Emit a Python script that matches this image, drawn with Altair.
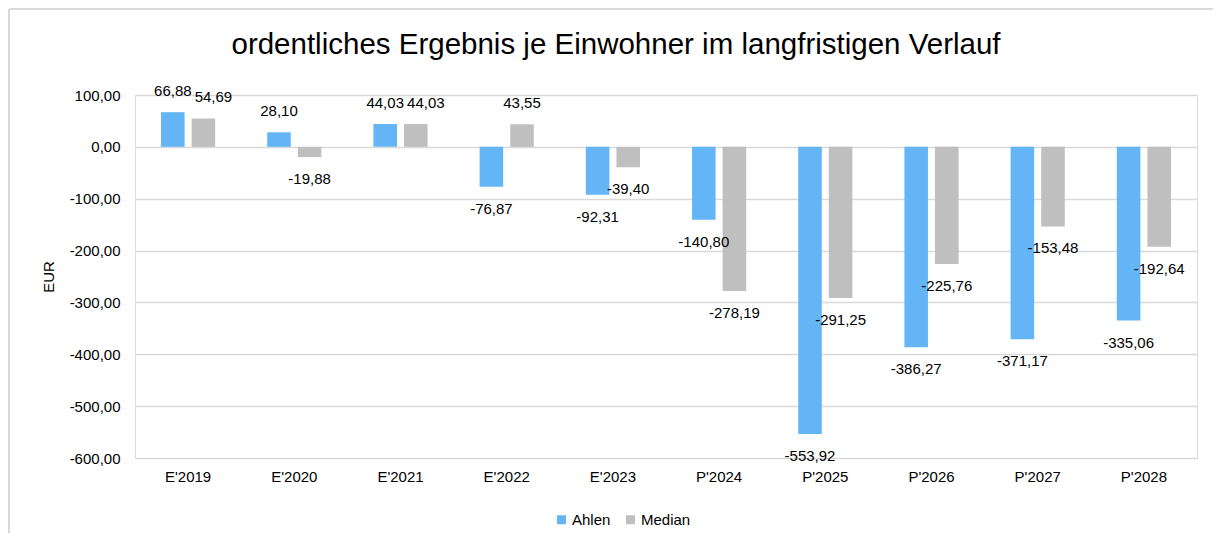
import altair as alt
import pandas as pd

categories = ["E'2019", "E'2020", "E'2021", "E'2022", "E'2023",
              "P'2024", "P'2025", "P'2026", "P'2027", "P'2028"]
ahlen = [66.88, 28.10, 44.03, -76.87, -92.31, -140.80, -553.92, -386.27, -371.17, -335.06]
median = [54.69, -19.88, 44.03, 43.55, -39.40, -278.19, -291.25, -225.76, -153.48, -192.64]
series = ["Ahlen", "Median"]
colors = ["#64B5F6", "#BFBFBF"]
y_ticks = [100, 0, -100, -200, -300, -400, -500, -600]

rows = []
for c, a, m in zip(categories, ahlen, median):
    for s, v in (("Ahlen", a), ("Median", m)):
        rows.append({"Kategorie": c, "Reihe": s, "Wert": v,
                     "Label": f"{v:.2f}".replace(".", ",")})
df = pd.DataFrame(rows)

FONT = "Liberation Sans"
W, H = 1062, 363

x_enc = alt.X("Kategorie:N", sort=categories,
              scale=alt.Scale(paddingInner=0.49, paddingOuter=0.245),
              axis=alt.Axis(title=None, labelAngle=0, domain=False, ticks=False,
                            labelFontSize=15, labelFont=FONT, labelColor="#000000",
                            labelPadding=11, grid=False))
xoff_enc = alt.XOffset("Reihe:N", sort=series,
                       scale=alt.Scale(paddingInner=0.23, paddingOuter=0))
y_scale = alt.Scale(domain=[-600, 100], nice=False, zero=False)

bars = alt.Chart(df).mark_bar().encode(
    x=x_enc,
    xOffset=xoff_enc,
    y=alt.Y("Wert:Q", scale=y_scale,
            axis=alt.Axis(title="EUR", values=y_ticks, domain=False, ticks=False,
                          labelExpr="(datum.value < 0 ? '-' : '') + replace(format(abs(datum.value), '.2f'), '.', ',')",
                          labelFontSize=15, labelFont=FONT, labelColor="#000000",
                          labelPadding=15, gridColor="#D9D9D9", gridWidth=1.5,
                          titleFont=FONT, titleFontSize=15, titleFontWeight="normal",
                          titleColor="#000000", titleAngle=-90, titleX=-82, titleY=181.5,
                          titleAlign="center", titleBaseline="alphabetic")),
    color=alt.Color("Reihe:N", sort=series,
                    scale=alt.Scale(domain=series, range=colors),
                    legend=alt.Legend(title=None, orient="none", direction="horizontal",
                                      legendX=419, legendY=417,
                                      symbolType="square", symbolSize=81,
                                      symbolStrokeWidth=0, labelFontSize=15,
                                      labelFont=FONT, labelColor="#000000",
                                      labelOffset=3, columnPadding=12)),
)

base_lab = alt.Chart(df).transform_joinaggregate(
    minW="min(Wert)", groupby=["Kategorie"]
)


def label_layer(cond, dy, dx=0):
    return base_lab.transform_filter(cond).mark_text(
        font=FONT, fontSize=15, color="#000000", baseline="middle", dy=dy, dx=dx
    ).encode(x=alt.X("Kategorie:N", sort=categories),
             xOffset=alt.XOffset("Reihe:N", sort=series),
             y=alt.Y("Wert:Q", scale=y_scale), text="Label:N")


# above the bar end for positive values; when both bars of a category are positive
# the Median label is nudged right so the two labels do not collide
pos_labels = label_layer("datum.Wert >= 0 && !(datum.Reihe == 'Median' && datum.minW >= 0)", -21)
pos_shift = label_layer("datum.Wert >= 0 && datum.Reihe == 'Median' && datum.minW >= 0", -21, 10)
neg_labels = label_layer("datum.Wert < 0", 22)

frame_left = alt.Chart(pd.DataFrame({"k": [0]})).mark_rule(
    color="#D9D9D9", strokeWidth=2
).encode(x=alt.value(-126), y=alt.value(-86), y2=alt.value(H + 80))
frame_top = alt.Chart(pd.DataFrame({"k": [0]})).mark_rule(
    color="#D9D9D9", strokeWidth=2
).encode(x=alt.value(-126), x2=alt.value(W + 20), y=alt.value(-86))

chart = alt.layer(frame_left, frame_top, bars, pos_labels, pos_shift, neg_labels).properties(
    width=W, height=H,
    title=alt.TitleParams(
        "ordentliches Ergebnis je Einwohner im langfristigen Verlauf",
        font=FONT, fontSize=29.5, fontWeight="normal", color="#000000",
        anchor="middle", frame="group", dx=-50, offset=-75, baseline="alphabetic"),
    padding={"left": 127, "top": 87, "right": 16, "bottom": 75},
    autosize=alt.AutoSizeParams(type="none"),
).configure_view(stroke=None).configure(background="#FFFFFF")

chart.save("out.html", embed_options={"renderer": "svg", "actions": False})
